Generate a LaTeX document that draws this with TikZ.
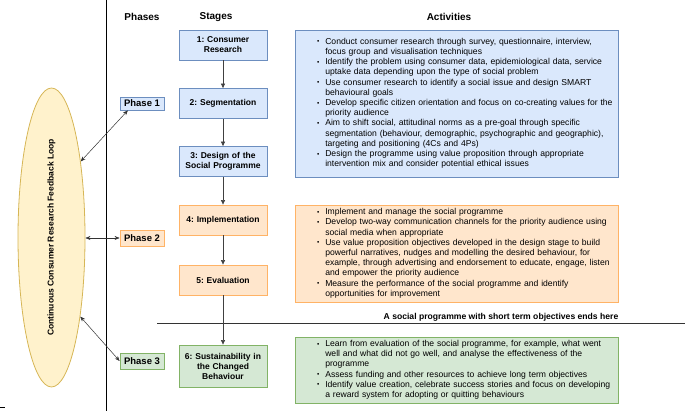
\documentclass[tikz,border=0pt]{standalone}
\usepackage{fontspec}
\setmainfont{Liberation Sans}
\usetikzlibrary{arrows.meta,shapes.geometric}
\definecolor{bluefill}{HTML}{DAE8FC}
\definecolor{blueline}{HTML}{6C8EBF}
\definecolor{orangefill}{HTML}{FFE6CC}
\definecolor{orangeline}{HTML}{FFB366}
\definecolor{greenfill}{HTML}{D5E8D4}
\definecolor{greenline}{HTML}{82B366}
\definecolor{loopfill}{HTML}{FFF2CC}
\definecolor{loopline}{HTML}{D6B656}
\newcommand{\bul}{\raisebox{0.5pt}{\fontsize{6.5}{6.5}\selectfont\textbullet}}
\frenchspacing

\begin{document}
\begin{tikzpicture}[x=1pt,y=-1pt,
 stagebox/.style={draw=#1line,fill=#1fill,line width=0.8pt,minimum width=88pt,minimum height=30pt,
  text width=86pt,align=center,inner sep=1pt,font=\fontsize{8.5}{10}\selectfont\bfseries},
 phasebox/.style={draw=#1line,fill=#1fill,line width=0.8pt,minimum width=44pt,minimum height=16pt,
  inner sep=1pt,font=\fontsize{9.5}{11}\selectfont\bfseries},
 actbox/.style={draw=#1line,fill=#1fill,line width=0.8pt,text width=315pt,inner xsep=4pt,
  inner ysep=0pt,align=left,font=\fontsize{8.6}{10.2}\selectfont},
 head/.style={font=\fontsize{10}{12}\selectfont\bfseries},
 flow/.style={-{Triangle[length=4.5pt,width=4pt]},black!75,line width=0.6pt},
 link/.style={{Stealth[length=5pt,width=4pt]}-{Stealth[length=5pt,width=4pt]},black!80,line width=0.5pt}]
\useasboundingbox (0,0) rectangle (685,411);
% dividers
\draw[line width=1pt] (106,0) -- (106,411);
\draw[line width=1pt,black!80] (157,324) -- (685,324);
\draw[line width=0.8pt] (0,407) -- (5,407);
% headings
\node[head] (hphase) at (142,17) {Phases};
\node[head] (hstage) at (216,17) {Stages};
\node[head] (hact) at (449,17) {Activities};
% feedback loop
\node[ellipse,draw=loopline,fill=loopfill,line width=0.8pt,minimum width=67pt,minimum height=299pt,inner sep=0pt] (loop) at (51.5,237.5) {};
\node[rotate=90,font=\fontsize{8.5}{10}\selectfont\bfseries] (looptext) at (loop.center) {Continuous Consumer Research Feedback Loop};
% phases
\node[phasebox=blue,minimum height=13pt] (p1) at (142,103.5) {Phase 1};
\node[phasebox=orange] (p2) at (142,238) {Phase 2};
\node[phasebox=green] (p3) at (142,361) {Phase 3};
% stages
\node[stagebox=blue] (s1) at (223,45) {1: Consumer\\Research};
\node[stagebox=blue] (s2) at (223,103.5) {2: Segmentation};
\node[stagebox=blue] (s3) at (223,161.5) {3: Design of the\\Social Programme};
\node[stagebox=orange] (s4) at (223,220) {4: Implementation};
\node[stagebox=orange] (s5) at (223,280) {5: Evaluation};
\node[stagebox=green,minimum height=42pt] (s6) at (223,366) {6: Sustainability in\\the Changed\\Behaviour};
% activities
\node[actbox=blue,minimum height=147pt] (a1) at (456.5,103.5) {%
\begin{tabular}{@{\hspace{18pt}}c@{\hspace{6pt}}l@{}}
\bul & Conduct consumer research through survey, questionnaire, interview,\\
 & focus group and visualisation techniques\\
\bul & Identify the problem using consumer data, epidemiological data, service\\
 & uptake data depending upon the type of social problem\\
\bul & Use consumer research to identify a social issue and design SMART\\
 & behavioural goals\\
\bul & Develop specific citizen orientation and focus on co-creating values for the\\
 & priority audience\\
\bul & Aim to shift social, attitudinal norms as a pre-goal through specific\\
 & segmentation (behaviour, demographic, psychographic and geographic),\\
 & targeting and positioning (4Cs and 4Ps)\\
\bul & Design the programme using value proposition through appropriate\\
 & intervention mix and consider potential ethical issues
\end{tabular}};
\node[actbox=orange,minimum height=97pt] (a2) at (456.5,253.5) {%
\begin{tabular}{@{\hspace{18pt}}c@{\hspace{6pt}}l@{}}
\bul & Implement and manage the social programme\\
\bul & Develop two-way communication channels for the priority audience using\\
 & social media when appropriate\\
\bul & Use value proposition objectives developed in the design stage to build\\
 & powerful narratives, nudges and modelling the desired behaviour, for\\
 & example, through advertising and endorsement to educate, engage, listen\\
 & and empower the priority audience\\
\bul & Measure the performance of the social programme and identify\\
 & opportunities for improvement
\end{tabular}};
\node[font=\fontsize{8.6}{10}\selectfont\bfseries] (endnote) at (501,317) {A social programme with short term objectives ends here};
\node[actbox=green,minimum height=66pt] (a3) at (456.5,370) {%
\begin{tabular}{@{\hspace{18pt}}c@{\hspace{6pt}}l@{}}
\bul & Learn from evaluation of the social programme, for example, what went\\
 & well and what did not go well, and analyse the effectiveness of the\\
 & programme\\
\bul & Assess funding and other resources to achieve long term objectives\\
\bul & Identify value creation, celebrate success stories and focus on developing\\
 & a reward system for adopting or quitting behaviours
\end{tabular}};
% connectors
\foreach \a/\b in {1/2,2/3,3/4,4/5,5/6} \draw[flow] (s\a) -- (s\b);
\draw[link] (loop.69) -- (p1.206);
\draw[link] (loop.east |- p2) -- (p2.west);
\draw[link] (loop.-70) -- (p3.west);
\end{tikzpicture}
\end{document}
